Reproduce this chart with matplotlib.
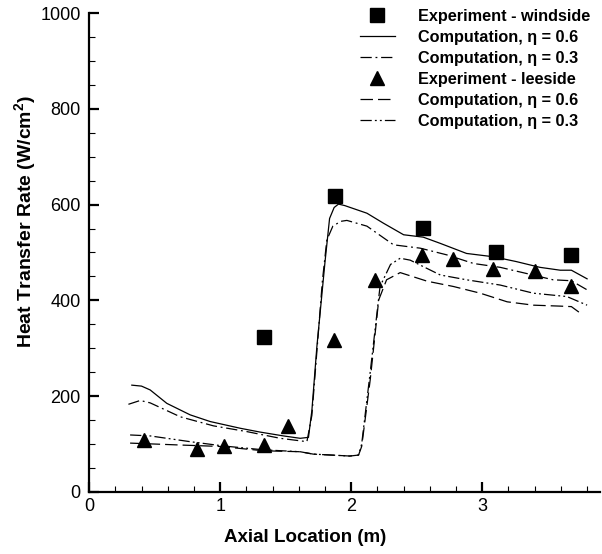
import matplotlib

matplotlib.use("Agg")

import matplotlib.pyplot as plt
from matplotlib.ticker import MultipleLocator

plt.rcParams["font.family"] = ["Liberation Sans", "DejaVu Sans"]

# experimental data
wind_exp_x = [1.336, 1.878, 2.547, 3.107, 3.68]
wind_exp_y = [323, 618, 551, 500, 495]
lee_exp_x = [0.42, 0.82, 1.03, 1.336, 1.52, 1.87, 2.18, 2.54, 2.78, 3.08, 3.40, 3.68]
lee_exp_y = [108, 90, 95, 97, 138, 317, 443, 495, 487, 465, 462, 430]

# computed profiles
wind_06_x = [0.326, 0.40, 0.466, 0.593, 0.771, 0.924, 1.153, 1.305, 1.483, 1.611, 1.674,
             1.70, 1.738, 1.80, 1.835, 1.87, 1.903, 1.95, 2.12, 2.247, 2.40, 2.55,
             2.68, 2.88, 3.087, 3.26, 3.44, 3.595, 3.68, 3.80]
wind_06_y = [223, 221, 213, 185, 161, 147, 133, 125, 117, 112, 114,
             170, 303, 480, 571, 594, 601, 598, 582, 561, 537, 532,
             519, 498, 491, 481, 469, 463, 463, 445]
wind_03_x = [0.30, 0.39, 0.466, 0.695, 0.949, 1.204, 1.458, 1.662, 1.70, 1.74,
             1.78, 1.814, 1.86, 1.92, 1.967, 2.12, 2.323, 2.527, 2.73, 2.934,
             3.137, 3.34, 3.54, 3.68, 3.80]
wind_03_y = [183, 191, 186, 157, 138, 126, 112, 105, 160, 300,
             440, 526, 555, 565, 567, 555, 516, 509, 495, 477,
             469, 456, 443, 441, 422]
lee_06_x = [0.313, 0.695, 1.0, 1.33, 1.61, 1.71, 1.99, 2.056, 2.08, 2.145, 2.21,
            2.27, 2.374, 2.58, 2.78, 2.985, 3.19, 3.39, 3.595, 3.68, 3.75]
lee_06_y = [102, 98, 95, 86, 84, 79, 75, 77, 95, 234, 401,
            443, 458, 440, 429, 415, 397, 390, 388, 387, 373]
lee_03_x = [0.313, 0.466, 0.77, 1.025, 1.33, 1.61, 1.71, 1.99, 2.056, 2.08, 2.145,
            2.22, 2.30, 2.374, 2.45, 2.68, 2.88, 3.137, 3.39, 3.646, 3.80]
lee_03_y = [119, 117, 105, 96, 88, 84, 79, 75, 77, 100, 250,
            429, 475, 488, 484, 453, 443, 432, 415, 408, 390]

fig = plt.figure(figsize=(6.02, 5.54), dpi=100)
ax = fig.add_axes([0.148, 0.112, 0.849, 0.8645])

ax.plot(wind_exp_x, wind_exp_y, "s", color="black", markersize=9.5, linestyle="none",
        label="Experiment - windside")
ax.plot(wind_06_x, wind_06_y, color="black", linewidth=0.9, linestyle="-",
        label="Computation, η = 0.6")
ax.plot(wind_03_x, wind_03_y, color="black", linewidth=0.9, linestyle=(0, (9, 3, 1.5, 3)),
        label="Computation, η = 0.3")
ax.plot(lee_exp_x, lee_exp_y, "^", color="black", markersize=10.5, linestyle="none",
        label="Experiment - leeside")
ax.plot(lee_06_x, lee_06_y, color="black", linewidth=0.9, linestyle=(0, (10, 4)),
        label="Computation, η = 0.6")
ax.plot(lee_03_x, lee_03_y, color="black", linewidth=0.9,
        linestyle=(0, (9, 2.5, 1.5, 2.5, 1.5, 2.5)),
        label="Computation, η = 0.3")

ax.set_xlim(0, 3.9)
ax.set_ylim(0, 1000)
ax.xaxis.set_major_locator(MultipleLocator(1))
ax.xaxis.set_minor_locator(MultipleLocator(0.2))
ax.yaxis.set_major_locator(MultipleLocator(200))
ax.yaxis.set_minor_locator(MultipleLocator(50))

for side in ("top", "right"):
    ax.spines[side].set_visible(False)
for side in ("left", "bottom"):
    ax.spines[side].set_linewidth(1.6)

ax.tick_params(which="major", direction="in", length=7, width=1.6, labelsize=13)
ax.tick_params(which="minor", direction="in", length=4, width=0.8)
ax.tick_params(axis="x", pad=4)
ax.tick_params(axis="y", pad=6)

ax.set_xlabel("Axial Location (m)", fontsize=13.5, fontweight="bold", va="top")
ax.xaxis.set_label_coords(0.423, -0.077)
ax.set_ylabel("Heat Transfer Rate (W/cm$\\mathregular{^2}$)", fontsize=14,
              fontweight="bold", va="center")
ax.yaxis.set_label_coords(-0.125, 0.564)

leg = ax.legend(loc="upper left", bbox_to_anchor=(0.530, 1.009), frameon=False,
                prop={"weight": "bold", "size": 11.7}, handlelength=2.15,
                labelspacing=0.37, handletextpad=1.4, borderaxespad=0, borderpad=0)

fig.savefig("out.png", dpi=100)
